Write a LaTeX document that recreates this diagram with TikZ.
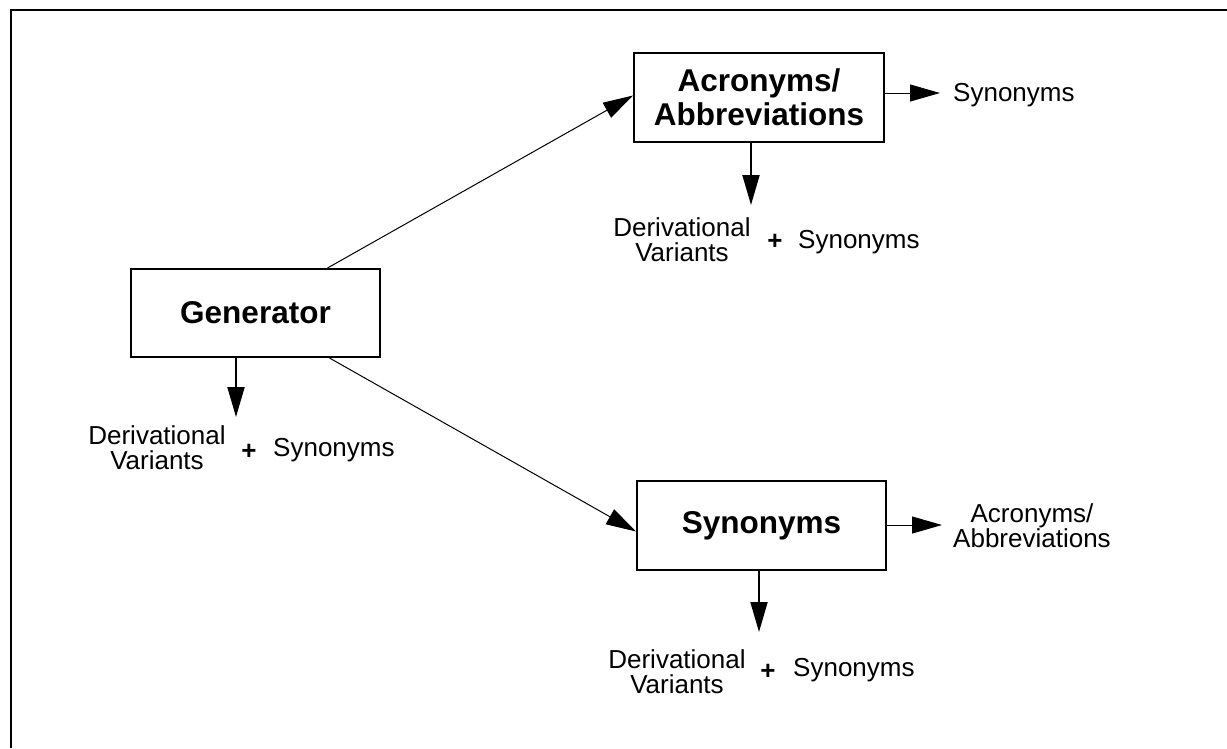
\documentclass[tikz,border=0pt]{standalone}
\usepackage{fontspec}
\setmainfont{Liberation Sans}
\usetikzlibrary{arrows.meta}

\begin{document}
\begin{tikzpicture}[x=1pt,y=-1pt,
  box/.style={draw,line width=2pt,inner sep=0pt,minimum width=249pt,minimum height=88pt,align=center,font=\fontsize{31.5}{34}\selectfont\bfseries},
  lbl/.style={inner sep=0pt,align=center,font=\fontsize{26}{25}\selectfont},
  plus/.style={inner sep=0pt,font=\fontsize{26}{25}\selectfont\bfseries},
  tip/.style={-{Triangle[length=30pt,width=17pt]}}]

\useasboundingbox (0,0) rectangle (1227,748);
\draw[line width=1.5pt] (11,748) -- (11,10) -- (1227,10);

\node[box] (gen) at (255.5,313) {Generator};
\node[box,minimum width=250pt,minimum height=89pt] (acr) at (759,97.5) {Acronyms/\\Abbreviations};
\node[box,minimum height=89pt] (syn) at (761.5,525.5) {Synonyms};

% generator
\coordinate (G1) at (236,417);
\draw[line width=2pt,tip] (gen.south -| G1) -- (G1);
\node[lbl] (gdv) at (157,448) {Derivational\\Variants};
\node[plus] (gplus) at (249,452) {+};
\node[lbl,anchor=west] (gsyn) at (273,450) {Synonyms};

\draw[line width=1pt,tip] ([xshift=72pt]gen.north) -- ([yshift=2pt]acr.west);
\draw[line width=1pt,tip] ([xshift=74pt]gen.south) -- ([yshift=-6pt]syn.west);

% acronyms
\coordinate (A1) at (751,205);
\coordinate (A2) at (940,93);
\draw[line width=2pt,tip] (acr.south -| A1) -- (A1);
\draw[line width=1pt,tip] (acr.east |- A2) -- (A2);
\node[lbl,anchor=west] (asyn) at (953,95) {Synonyms};
\node[lbl] (adv) at (682,240) {Derivational\\Variants};
\node[plus] (aplus) at (775,242) {+};
\node[lbl,anchor=west] (asyn2) at (798,242) {Synonyms};

% synonyms
\coordinate (S1) at (759,632);
\coordinate (S2) at (942,525);
\draw[line width=2pt,tip] (syn.south -| S1) -- (S1);
\draw[line width=1pt,tip] (syn.east |- S2) -- (S2);
\node[lbl] (sacr) at (1032,526) {Acronyms/\\Abbreviations};
\node[lbl] (sdv) at (677,672) {Derivational\\Variants};
\node[plus] (splus) at (768,672) {+};
\node[lbl,anchor=west] (ssyn) at (793,670) {Synonyms};
\end{tikzpicture}
\end{document}
